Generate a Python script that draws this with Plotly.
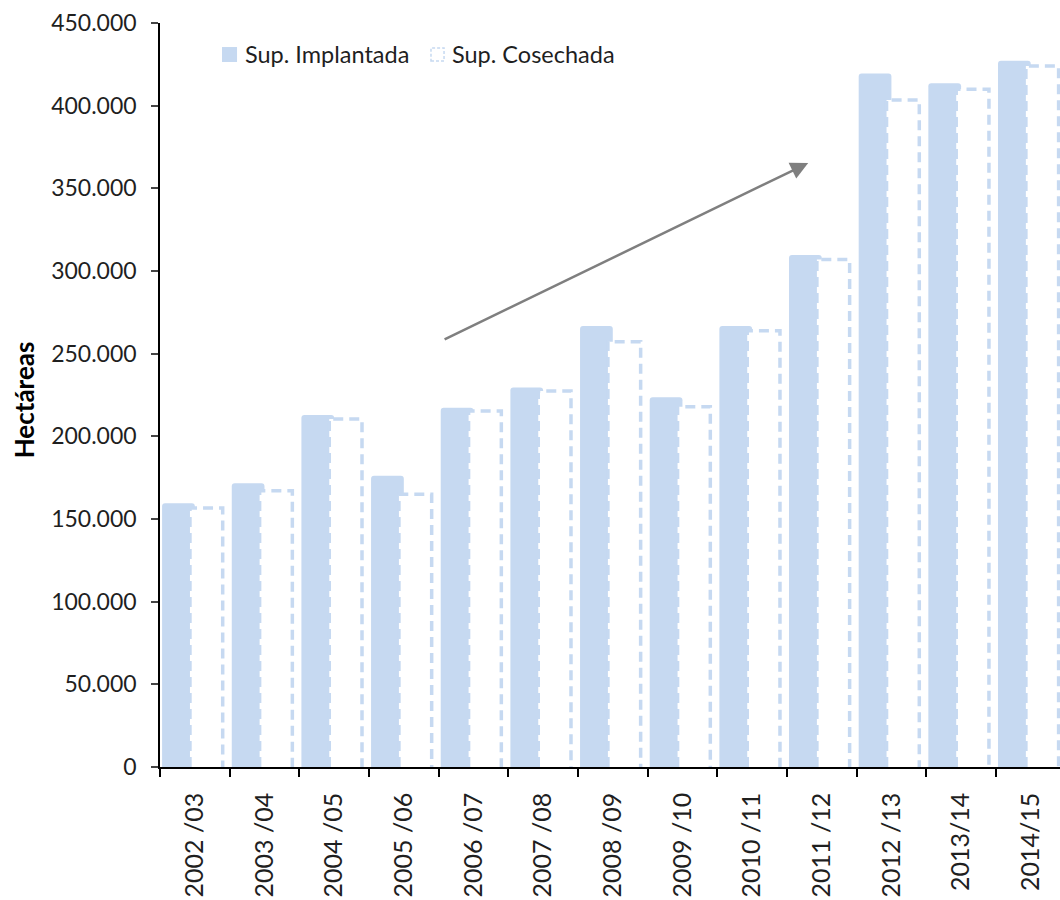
import plotly.graph_objects as go

# Campaigns and surfaces (hectares)
campanas = ["2002 /03", "2003 /04", "2004 /05", "2005 /06", "2006 /07", "2007 /08",
            "2008 /09", "2009 /10", "2010 /11", "2011 /12", "2012 /13", "2013/14", "2014/15"]
sup_implantada = [159500, 171600, 212900, 176200, 217300, 229600, 266700,
                  223600, 266700, 309700, 419500, 413500, 427200]
sup_cosechada = [156600, 167100, 210500, 164900, 215300, 227400, 257200,
                 217900, 263900, 307000, 403400, 409900, 424000]

y_ticks = [0, 50000, 100000, 150000, 200000, 250000, 300000, 350000, 400000, 450000]

BLUE = "#c6d9f1"
TXT = "#1f1f1f"
FONT = "Lato"

idx = list(range(len(campanas)))

# bar geometry within each category slot (in category units)
IMP_OFF, IMP_W = -0.47, 0.47
COS_OFF, COS_W = -0.07, 0.47

fig = go.Figure()

fig.add_trace(go.Bar(
    x=idx, y=sup_implantada, name="Sup. Implantada",
    offset=IMP_OFF, width=IMP_W,
    marker=dict(color=BLUE, line=dict(width=0), cornerradius=3),
    showlegend=False,
))

# white body of the harvested-area bars
fig.add_trace(go.Bar(
    x=idx, y=sup_cosechada, name="Sup. Cosechada",
    offset=COS_OFF, width=COS_W,
    marker=dict(color="white", line=dict(width=0)),
    showlegend=False,
))

# dashed outline of the harvested-area bars
ox, oy = [], []
for i, v in zip(idx, sup_cosechada):
    x0 = i + COS_OFF
    x1 = x0 + COS_W
    ox += [x0, x0, x1, x1, None]
    oy += [0, v, v, 0, None]
fig.add_trace(go.Scatter(
    x=ox, y=oy, mode="lines", name="Sup. Cosechada",
    line=dict(color=BLUE, width=3.5, dash="10px,6px"),
    hoverinfo="skip", showlegend=False,
))

# trend arrow
fig.add_annotation(
    x=8.805, y=365300, ax=3.564, ay=258200,
    xref="x", yref="y", axref="x", ayref="y",
    showarrow=True, arrowhead=2, arrowsize=1.4, arrowwidth=2.5,
    arrowcolor="#7f7f7f", text="",
)

# legend
fig.add_shape(type="rect", xref="paper", yref="paper",
              x0=0.0689, x1=0.0856, y0=0.9476, y1=0.9677,
              fillcolor=BLUE, line=dict(width=0))
fig.add_annotation(xref="paper", yref="paper", x=0.0922, y=0.9577,
                   xanchor="left", yanchor="middle", showarrow=False,
                   text="Sup. Implantada", font=dict(family=FONT, size=23.5, color=TXT))
fig.add_shape(type="rect", xref="paper", yref="paper",
              x0=0.3011, x1=0.3156, y0=0.9490, y1=0.9665,
              fillcolor="white", line=dict(color=BLUE, width=1.5, dash="3px,2px"))
fig.add_annotation(xref="paper", yref="paper", x=0.3222, y=0.9577,
                   xanchor="left", yanchor="middle", showarrow=False,
                   text="Sup. Cosechada", font=dict(family=FONT, size=23.5, color=TXT))

# y-axis title
fig.add_annotation(xref="paper", yref="paper", x=-0.151, y=0.493,
                   xanchor="center", yanchor="middle", showarrow=False,
                   textangle=-90, text="<b>Hectáreas</b>",
                   font=dict(family=FONT, size=26, color="#000000"))

fig.update_layout(
    width=1060, height=900,
    margin=dict(l=160, r=0, t=23, b=133, autoexpand=False),
    paper_bgcolor="white", plot_bgcolor="white",
    barmode="overlay",
    separators=",.",
    font=dict(family=FONT, size=23, color=TXT),
    showlegend=False,
)

fig.update_xaxes(
    range=[-0.5, 12.42],
    tickmode="array", tickvals=idx, ticktext=campanas,
    tickangle=-90, ticks="", ticklen=0, ticklabelstandoff=14,
    showline=True, linecolor="#000000", linewidth=1.5,
    showgrid=False, zeroline=False,
    tickfont=dict(family=FONT, size=25, color=TXT),
    minor=dict(tick0=-0.5, dtick=1, ticks="outside", ticklen=8,
               tickcolor="#000000", tickwidth=1.5, showgrid=False),
    fixedrange=True,
)

fig.update_yaxes(
    range=[0, 450000],
    tickmode="array", tickvals=y_ticks, tickformat=",d",
    ticks="outside", ticklen=7, tickcolor="#444444", tickwidth=2,
    ticklabelstandoff=10,
    showline=True, linecolor="#000000", linewidth=1.5,
    showgrid=False, zeroline=False,
    tickfont=dict(family=FONT, size=23, color=TXT),
    fixedrange=True,
)

fig.write_html("out.html")
